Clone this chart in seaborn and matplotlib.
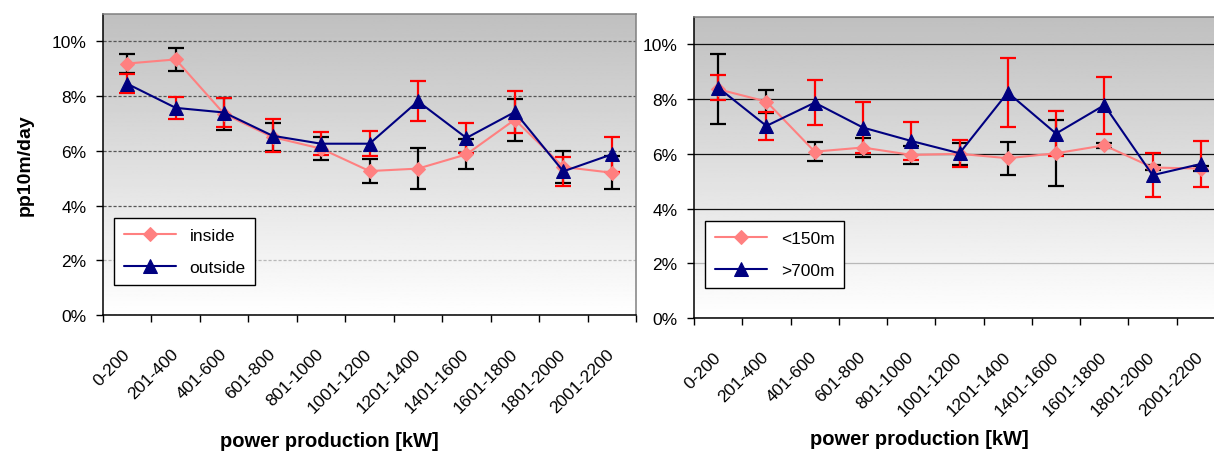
import numpy as np
import pandas as pd
import seaborn as sns
import matplotlib.pyplot as plt
from matplotlib.ticker import PercentFormatter
from matplotlib.transforms import ScaledTranslation

categories = ["0-200", "201-400", "401-600", "601-800", "801-1000", "1001-1200",
              "1201-1400", "1401-1600", "1601-1800", "1801-2000", "2001-2200"]

# left panel (pp10m/day in %)
inside = [9.19, 9.34, 7.35, 6.50, 6.08, 5.26, 5.35, 5.87, 7.14, 5.41, 5.20]
inside_err = [0.34, 0.41, 0.58, 0.50, 0.41, 0.45, 0.74, 0.55, 0.77, 0.58, 0.60]
outside = [8.45, 7.57, 7.40, 6.55, 6.26, 6.26, 7.81, 6.47, 7.42, 5.25, 5.87]
outside_err = [0.35, 0.40, 0.53, 0.61, 0.43, 0.46, 0.73, 0.55, 0.78, 0.53, 0.63]

# right panel
near = [8.36, 7.91, 6.08, 6.23, 5.96, 6.00, 5.84, 6.02, 6.31, 5.50, 5.46]
near_err = [1.28, 0.41, 0.35, 0.33, 0.34, 0.40, 0.60, 1.20, 0.10, 0.10, 0.10]
far = [8.42, 7.02, 7.87, 6.96, 6.47, 6.02, 8.24, 6.74, 7.78, 5.22, 5.63]
far_err = [0.47, 0.50, 0.81, 0.92, 0.69, 0.50, 1.25, 0.83, 1.04, 0.80, 0.84]

sns.set_theme(style="white")
plt.rcParams['font.family'] = ['Liberation Sans', 'DejaVu Sans']
plt.rcParams['text.color'] = 'black'
plt.rcParams['axes.labelcolor'] = 'black'
plt.rcParams['xtick.color'] = 'black'
plt.rcParams['ytick.color'] = 'black'

fig = plt.figure(figsize=(12.14, 4.52), dpi=100)
ax1 = fig.add_axes([103 / 1214, 136 / 452, 533 / 1214, 301 / 452])
ax2 = fig.add_axes([694 / 1214, 133 / 452, 531 / 1214, 301 / 452])


def draw_panel(ax, a, a_err, a_label, b, b_err, b_label, grid_ls, grid_col,
               xlabel_y, ylabel=None):
    x = np.arange(len(categories))
    df = pd.DataFrame({"x": x, "a": a, "b": b})

    # grey-to-white gradient background
    grad = np.linspace(0.75, 1.0, 256).reshape(-1, 1)
    ax.imshow(grad, extent=[-0.5, len(categories) - 0.5, 0, 11], aspect="auto",
              cmap="gray", vmin=0, vmax=1, zorder=0)

    ax.errorbar(x, a, yerr=a_err, fmt="none", ecolor="black", elinewidth=1.6,
                capsize=6, capthick=1.6, zorder=2)
    ax.errorbar(x, b, yerr=b_err, fmt="none", ecolor="#ff0000", elinewidth=1.6,
                capsize=6, capthick=1.6, zorder=2)

    sns.lineplot(data=df, x="x", y="a", ax=ax, color="#ff8080", marker="D",
                 markersize=7, markeredgecolor="#ff8080", lw=1.5, label=a_label, zorder=3)
    sns.lineplot(data=df, x="x", y="b", ax=ax, color="#000080", marker="^",
                 markersize=10, markeredgecolor="#000080", lw=1.5, label=b_label, zorder=4)

    ax.set_xlim(-0.5, len(categories) - 0.5)
    ax.set_ylim(0, 11)
    ax.set_yticks(range(0, 11, 2))
    ax.yaxis.set_major_formatter(PercentFormatter(xmax=100, decimals=0))
    ax.yaxis.grid(True, color=grid_col, linestyle=grid_ls, lw=0.9)
    ax.set_axisbelow(True)
    ax.get_ygridlines()[1].set_color("#b8b8b8")

    # ticks between categories, labels at centres
    ax.set_xticks(np.arange(-0.5, len(categories), 1))
    ax.set_xticklabels([])
    ax.set_xticks(x, minor=True)
    ax.set_xticklabels(categories, minor=True, rotation=45, ha="right",
                       rotation_mode="anchor", va="center", fontsize=12.5)
    for lab in ax.get_xticklabels(minor=True):
        lab.set_transform(lab.get_transform() + ScaledTranslation(-16 / 100, 0, fig.dpi_scale_trans))
    ax.tick_params(axis="x", which="major", bottom=True, length=5, width=1, color="black")
    ax.tick_params(axis="x", which="minor", bottom=True, length=0, pad=26)
    ax.tick_params(axis="y", left=True, length=5, width=1, color="black", labelsize=12.5, pad=7)

    for side in ["left", "bottom"]:
        ax.spines[side].set_color("black")
        ax.spines[side].set_linewidth(1.1)
    for side in ["top", "right"]:
        ax.spines[side].set_color("#808080")
        ax.spines[side].set_linewidth(1.1)

    ax.set_xlabel("power production [kW]", fontsize=14.5, fontweight="bold")
    ax.xaxis.set_label_coords(0.424, xlabel_y)
    if ylabel:
        ax.set_ylabel(ylabel, fontsize=14, fontweight="bold")
        ax.yaxis.set_label_coords(-0.13, 0.5)
    else:
        ax.set_ylabel("")

    leg = ax.legend(loc="lower left", bbox_to_anchor=(0.021, 0.10), borderaxespad=0,
                    fontsize=12.5, frameon=True, fancybox=False, framealpha=1,
                    edgecolor="black", facecolor="white", handlelength=3,
                    labelspacing=1.0, borderpad=0.55)
    leg.get_frame().set_linewidth(1.0)


draw_panel(ax1, inside, inside_err, "inside", outside, outside_err, "outside",
           (0, (2.5, 1.5)), "#555555", -0.385, ylabel="pp10m/day")
draw_panel(ax2, near, near_err, "<150m", far, far_err, ">700m",
           "-", "#111111", -0.37)

fig.savefig("out.png", dpi=100)
